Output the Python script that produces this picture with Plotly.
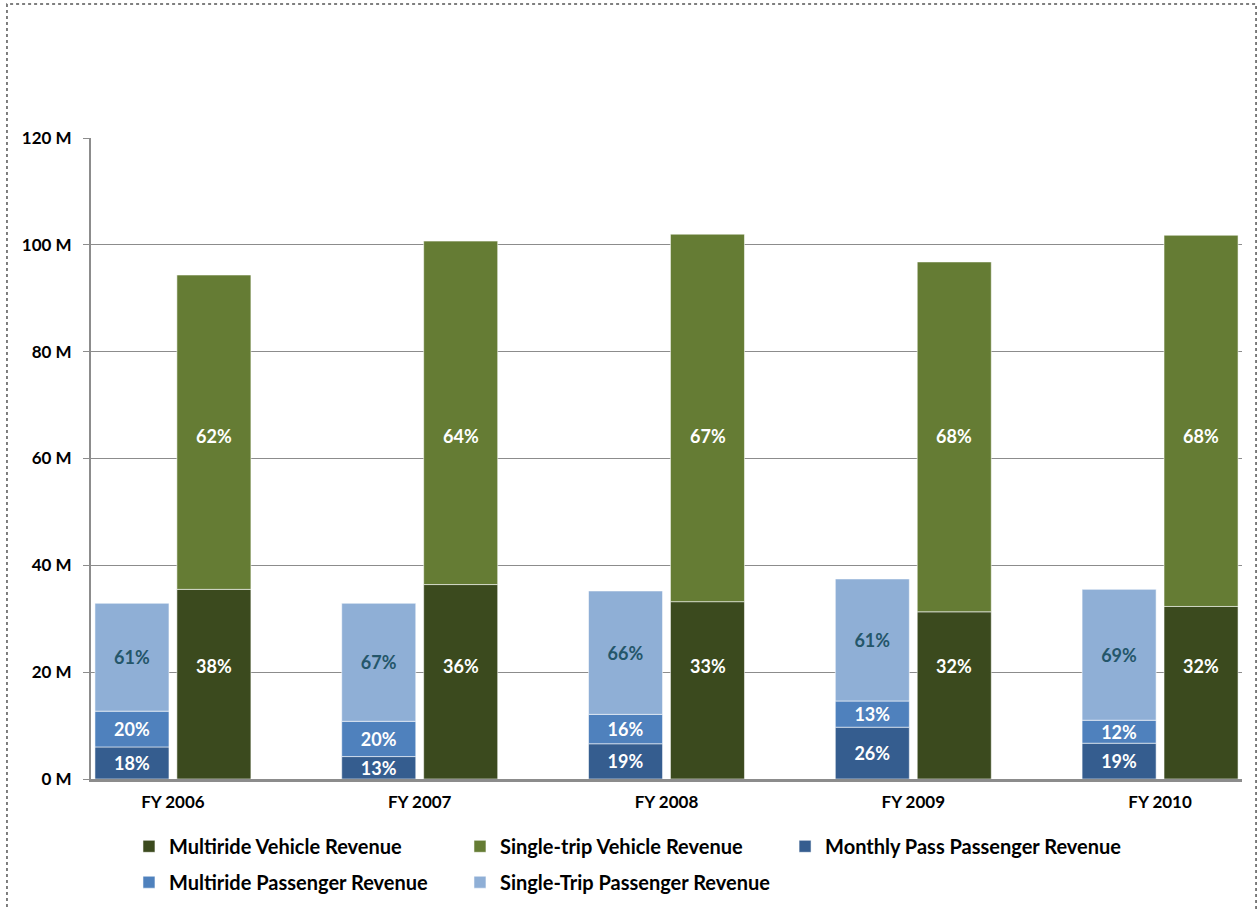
import numpy as np
import plotly.graph_objects as go

# Fiscal years on the category axis
years = ["FY 2006", "FY 2007", "FY 2008", "FY 2009", "FY 2010"]

# Passenger revenue components (millions)
monthly_pass = [6.0, 4.2, 6.6, 9.7, 6.7]
multiride_pass = [6.7, 6.6, 5.5, 4.9, 4.3]
single_trip_pass = [20.2, 22.1, 23.1, 22.85, 24.5]

# Vehicle revenue components (millions)
multiride_vehicle = [35.5, 36.4, 33.2, 31.3, 32.3]
single_trip_vehicle = [58.85, 64.3, 68.8, 65.5, 69.5]

# Y-axis ticks (millions) and their labels
y_ticks = [0, 20, 40, 60, 80, 100, 120]
y_tick_labels = [f"{v} M" for v in y_ticks]

FONT = "Lato"
C_MULTI_VEH = "#3B4A1E"
C_SINGLE_VEH = "#657C34"
C_MONTHLY = "#355D8F"
C_MULTI_PASS = "#4F81BD"
C_SINGLE_PASS = "#8FAFD6"
BAR_LINE = dict(color="rgba(255,255,255,0.55)", width=1)

BAR_W = 0.30
PASS_OFFSET = -0.316
VEH_OFFSET = 0.016

mp = np.array(monthly_pass)
mr = np.array(multiride_pass)
sp = np.array(single_trip_pass)
pass_total = mp + mr + sp
mv = np.array(multiride_vehicle)
sv = np.array(single_trip_vehicle)
veh_total = mv + sv


def pct(part, total):
    return [f"{int(np.floor(p / t * 100 + 0.5))}%" for p, t in zip(part, total)]


fig = go.Figure()

label_font_white = dict(family=FONT, size=18, color="white", weight="bold")

# Vehicle stack (right bar of each pair); labels added as annotations
fig.add_trace(go.Bar(
    x=years, y=mv, base=[0] * len(years), name="Multiride Vehicle Revenue",
    marker=dict(color=C_MULTI_VEH, line=BAR_LINE),
    width=BAR_W, offset=VEH_OFFSET, legend="legend",
    textposition="none", hoverinfo="name+y",
))
fig.add_trace(go.Bar(
    x=years, y=sv, base=mv, name="Single-trip Vehicle Revenue",
    marker=dict(color=C_SINGLE_VEH, line=BAR_LINE),
    width=BAR_W, offset=VEH_OFFSET, legend="legend",
    textposition="none", hoverinfo="name+y",
))

# Passenger stack (left bar of each pair)
fig.add_trace(go.Bar(
    x=years, y=mp, base=[0] * len(years), name="Monthly Pass Passenger Revenue",
    marker=dict(color=C_MONTHLY, line=BAR_LINE),
    width=BAR_W, offset=PASS_OFFSET, legend="legend3",
    text=pct(mp, pass_total), textposition="inside", insidetextanchor="middle",
    textangle=0, constraintext="none", textfont=label_font_white,
))
fig.add_trace(go.Bar(
    x=years, y=mr, base=mp, name="Multiride Passenger Revenue",
    marker=dict(color=C_MULTI_PASS, line=BAR_LINE),
    width=BAR_W, offset=PASS_OFFSET, legend="legend2",
    text=pct(mr, pass_total), textposition="inside", insidetextanchor="middle",
    textangle=0, constraintext="none", textfont=label_font_white,
))
fig.add_trace(go.Bar(
    x=years, y=sp, base=mp + mr, name="Single-Trip Passenger Revenue",
    marker=dict(color=C_SINGLE_PASS, line=BAR_LINE),
    width=BAR_W, offset=PASS_OFFSET, legend="legend2",
    text=pct(sp, pass_total), textposition="inside", insidetextanchor="middle",
    textangle=0, constraintext="none",
    textfont=dict(family=FONT, size=18, color="#24566A", weight="bold"),
))

# Vehicle share labels at fixed heights within the vehicle bars
annotations = []
for yr, lab in zip(years, pct(mv, veh_total)):
    annotations.append(dict(x=yr, y=21.2, text=lab, showarrow=False, xshift=41,
                            font=label_font_white))
for yr, lab in zip(years, pct(sv, veh_total)):
    annotations.append(dict(x=yr, y=64.2, text=lab, showarrow=False, xshift=41,
                            font=label_font_white))

# Dashed frame around the whole chart
shapes = [dict(type="rect", xref="paper", yref="paper",
               x0=-0.073, x1=1.0122, y0=-0.22, y1=1.209,
               line=dict(color="#555555", width=1.5, dash="dot"))]

legend_common = dict(
    orientation="h", xanchor="left", yanchor="middle",
    font=dict(family=FONT, size=20, color="black", weight="bold"),
    bgcolor="rgba(0,0,0,0)", traceorder="normal", itemclick=False,
)

fig.update_layout(
    width=1257, height=909,
    margin=dict(l=91, r=15, t=138, b=130, autoexpand=False),
    paper_bgcolor="white", plot_bgcolor="white",
    barmode="overlay",
    showlegend=True,
    legend=dict(x=0.033, y=-0.105, entrywidth=286, entrywidthmode="pixels",
                **legend_common),
    legend2=dict(x=0.033, y=-0.161, entrywidth=286, entrywidthmode="pixels",
                 **legend_common),
    legend3=dict(x=0.603, y=-0.105, **legend_common),
    font=dict(family=FONT, size=16, color="black"),
    annotations=annotations,
    shapes=shapes,
    xaxis=dict(
        type="category", range=[-0.332, 4.332],
        showgrid=False, showline=True, linecolor="#8C8C8C", linewidth=2.5,
        ticks="", tickfont=dict(family=FONT, size=17, color="black", weight="bold"),
        ticklabelstandoff=6, fixedrange=True,
    ),
    yaxis=dict(
        range=[0, 120], tickmode="array", tickvals=y_ticks, ticktext=y_tick_labels,
        showgrid=True, gridcolor="#8C8C8C", gridwidth=1.3,
        showline=True, linecolor="#8C8C8C", linewidth=2,
        ticks="outside", ticklen=6, tickcolor="#8C8C8C", tickwidth=1.3,
        tickfont=dict(family=FONT, size=17, color="black", weight="bold"),
        ticklabelstandoff=8, zeroline=False, fixedrange=True,
    ),
)

fig.write_html("out.html")
